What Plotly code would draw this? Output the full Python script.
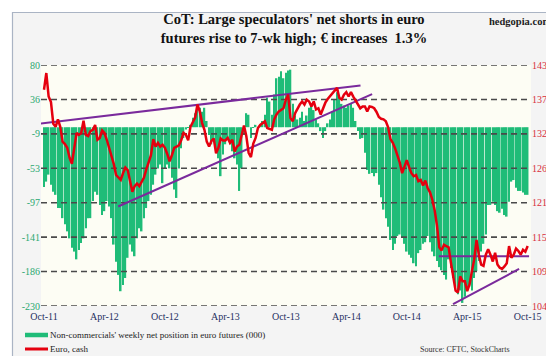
import numpy as np
import pandas as pd
import plotly.graph_objects as go

# ---------------- data ----------------
dates = pd.date_range("2011-10-04", periods=209, freq="7D")

net_position = [
    -77, -70, -61, -74, -83, -87, -104, -104, -117, -125,
    -134, -143, -155, -160, -170, -158, -149, -143, -130, -117,
    -117, -95, -83, -87, -100, -113, -108, -95, -102, -117,
    -151, -173, -190, -211, -203, -194, -168, -151, -160, -166,
    -143, -130, -134, -117, -104, -95, -87, -74, -61, -53,
    -48, -72, -53, -48, -53, -65, -80, -91, -53, -27,
    -14, -3, -1, 3, 12, 18, 27, 25, 20, 25,
    8, -10, -22, -18, -29, -40, -63, -35, -22, -14,
    -22, -31, -40, -48, -82, -53, -10, 18, 16, -14,
    -1, 3, -1, 3, 8, 16, 38, 33, 16, 42,
    63, 65, 72, 63, 70, 73, 74, 30, 15, 10,
    12, 20, 8, 15, 25, 30, 22, 10, 5, -5,
    -14, -5, 5, 10, 20, 35, 45, 38, 30, 28,
    25, 28, 30, 25, 8, -5, -15, -14, -33, -55,
    -60, -59, -63, -59, -74, -90, -106, -117, -128, -145,
    -158, -150, -140, -138, -142, -150, -160, -164, -168, -175,
    -179, -162, -158, -150, -148, -140, -148, -160, -166, -172,
    -180, -184, -190, -196, -170, -181, -194, -205, -215, -210,
    -226, -218, -208, -205, -210, -194, -185, -172, -160, -150,
    -138, -100, -100, -96, -100, -108, -110, -105, -113, -115,
    -96, -70, -68, -78, -82, -82, -84, -87, -87,
]

euro_cash = [
    139.0, 141.7, 137.9, 137.0, 133.5, 133.0, 134.2, 133.0, 130.6, 130.2,
    129.6, 128.0, 127.0, 129.8, 132.0, 131.7, 132.0, 134.0, 131.7, 131.5,
    132.3, 132.5, 133.3, 130.9, 131.2, 132.4, 132.0, 130.9, 129.5, 128.5,
    127.0, 125.2, 124.8, 124.4, 125.5, 126.4, 126.0, 124.5, 122.5, 123.4,
    123.8, 123.4, 124.2, 124.8, 126.1, 127.4, 128.4, 131.0, 129.8, 130.4,
    129.8, 130.1, 129.6, 128.6, 127.4, 128.4, 129.6, 129.8, 130.0, 130.8,
    132.0, 131.7, 130.8, 133.0, 133.9, 134.5, 136.6, 135.5, 133.6, 132.5,
    130.6, 129.8, 130.7, 131.1, 128.7, 129.6, 131.1, 130.8, 130.8, 131.2,
    130.4, 130.9, 129.0, 129.8, 130.1, 131.6, 133.2, 131.5, 128.8, 128.1,
    130.3, 131.2, 132.8, 133.3, 133.6, 133.9, 132.8, 132.6, 132.5, 134.2,
    135.0, 135.5, 135.8, 136.0, 137.4, 138.2, 134.4, 133.9, 135.2, 136.0,
    136.6, 137.1, 136.6, 137.4, 137.1, 136.3, 137.1, 135.8, 136.0, 135.0,
    136.0, 136.9, 137.5, 138.0, 138.4, 139.0, 139.3, 137.7, 137.4, 138.2,
    138.6, 137.9, 138.6, 137.9, 137.2, 136.7, 136.0, 136.3, 136.3, 135.5,
    136.3, 136.2, 136.0, 135.4, 134.6, 134.3, 134.2, 133.9, 132.9, 131.0,
    130.4, 129.5, 128.3, 127.2, 125.5, 126.5, 127.6, 126.5, 125.5, 125.0,
    125.2, 124.2, 124.4, 123.5, 124.3, 123.1, 122.4, 121.2, 119.5, 117.0,
    113.5, 113.0, 113.9, 113.7, 113.5, 111.0, 108.5, 106.5, 106.2, 108.8,
    108.0, 108.0, 106.4, 107.5, 109.6, 111.5, 114.7, 112.3, 110.7, 110.5,
    112.3, 113.2, 112.3, 111.2, 112.6, 110.7, 110.2, 110.0, 110.4, 110.9,
    113.7, 111.8, 112.3, 113.3, 112.9, 112.3, 113.1, 112.8, 113.7,
]

x_tick_labels = ["Oct-11", "Apr-12", "Oct-12", "Apr-13", "Oct-13",
                 "Apr-14", "Oct-14", "Apr-15", "Oct-15"]
left_tick_labels = ["-230", "-186", "-141", "-97", "-53", "-9", "36", "80"]
right_tick_labels = ["104", "109", "115", "121", "126", "132", "137", "143"]

series_names = ["Non-commercials' weekly net position in euro futures (000)",
                "Euro, cash"]

# trend lines (week index, euro value) start/end
trend_lines = [
    ((-1.85, 133.5), (136.1, 139.7)),
    ((31.9, 120.1), (141.1, 138.3)),
    ((169.8, 112.05), (208.6, 112.05)),
    ((175.9, 104.3), (204.3, 110.0)),
]

# ---------------- figure ----------------
W, H = 554, 356
L, R, T, B = 33, 31, 57, 58
week = pd.Timedelta(days=7)
d0 = dates[0]
x_range = [d0 - pd.Timedelta(days=9), dates[-1] + pd.Timedelta(days=10)]

GREEN = "#1fbc78"
RED = "#e5000f"
PURPLE = "#7a2a9c"
SERIF = "Liberation Serif"

left_ticks = [float(v) for v in np.linspace(-230, 80, len(left_tick_labels))]
right_ticks = [float(v) for v in np.linspace(104, 143, len(right_tick_labels))]

fig = go.Figure()

fig.add_trace(go.Bar(
    x=dates, y=net_position, marker=dict(color=GREEN, line=dict(width=0)),
    name=series_names[0], showlegend=False, yaxis="y",
))

# dashed horizontal gridlines at the left-axis tick values
grid_x, grid_y = [], []
for tv in left_ticks:
    grid_x += [x_range[0], x_range[1], None]
    grid_y += [tv, tv, None]
fig.add_trace(go.Scatter(
    x=grid_x, y=grid_y, mode="lines", yaxis="y",
    line=dict(color="#4a4a4a", width=1.6, dash="6px,4px"),
    showlegend=False, hoverinfo="skip", connectgaps=False,
))

for (i0, v0), (i1, v1) in trend_lines:
    fig.add_trace(go.Scatter(
        x=[d0 + week * i0, d0 + week * i1], y=[v0, v1], mode="lines",
        line=dict(color=PURPLE, width=2), yaxis="y2", showlegend=False,
        hoverinfo="skip",
    ))

fig.add_trace(go.Scatter(
    x=dates, y=euro_cash, mode="lines", line=dict(color=RED, width=2.5),
    name=series_names[1], yaxis="y2", showlegend=False,
))


def px_x(p):
    return (p - L) / (W - L - R)


def px_y(p):
    return 1 - (p - T) / (H - T - B)


fig.update_layout(
    width=W, height=H,
    margin=dict(l=L, r=R, t=T, b=B, autoexpand=False),
    paper_bgcolor="#f4f4f4",
    plot_bgcolor="#fdfdf4",
    bargap=0.32,
    showlegend=False,
    font=dict(family=SERIF, size=10, color="#1f2f5f"),
    title=dict(
        text="<b>CoT: Large speculators' net shorts in euro<br>"
             "futures rise to 7-wk high; € increases  1.3%</b>",
        x=286 / W, xanchor="center", xref="container",
        y=1 - 16 / H, yanchor="top", yref="container",
        font=dict(family=SERIF, size=14.5, color="#111111"),
    ),
    xaxis=dict(
        type="date",
        range=x_range,
        tickvals=[d0 + week * 26 * k for k in range(len(x_tick_labels))],
        ticktext=x_tick_labels,
        showgrid=False, zeroline=False, showline=False, ticks="",
        tickfont=dict(family=SERIF, size=10, color="#1f2f5f"),
        ticklabelstandoff=3,
    ),
    yaxis=dict(
        range=[-230, 80],
        tickvals=left_ticks,
        ticktext=left_tick_labels,
        showgrid=False, zeroline=False, showline=False, ticks="",
        tickfont=dict(family=SERIF, size=10, color="#2aa870"),
    ),
    yaxis2=dict(
        range=[104, 143], overlaying="y", side="right",
        tickvals=right_ticks,
        ticktext=right_tick_labels,
        showgrid=False, zeroline=False, showline=False, ticks="",
        tickfont=dict(family=SERIF, size=10, color="#d8303c"),
    ),
)

# legend (drawn manually to match swatch style)
legend_rows = [(327, GREEN, 4.5), (341, RED, 3)]
for (ypx, col, lw), name in zip(legend_rows, series_names):
    fig.add_shape(type="line", xref="paper", yref="paper",
                  x0=px_x(17), x1=px_x(40), y0=px_y(ypx), y1=px_y(ypx),
                  line=dict(color=col, width=lw))
    fig.add_annotation(text=name, xref="paper", yref="paper",
                       x=px_x(40), y=px_y(ypx), xanchor="left", yanchor="middle",
                       showarrow=False,
                       font=dict(family=SERIF, size=9, color="#222222"))

fig.add_annotation(
    text="<b>hedgopia.com</b>", xref="paper", yref="paper",
    x=px_x(545), y=px_y(14), xanchor="right", yanchor="middle",
    showarrow=False, font=dict(family=SERIF, size=10.5, color="#222222"),
)
fig.add_annotation(
    text="Source: CFTC, StockCharts", xref="paper", yref="paper",
    x=px_x(504), y=px_y(341), xanchor="right", yanchor="middle",
    showarrow=False, font=dict(family=SERIF, size=8, color="#333333"),
)

# white outer margin and thin border
fig.add_shape(type="rect", xref="paper", yref="paper",
              x0=px_x(0), x1=px_x(W), y0=px_y(0), y1=px_y(H),
              line=dict(color="white", width=8), fillcolor="rgba(0,0,0,0)")
fig.add_shape(type="rect", xref="paper", yref="paper",
              x0=px_x(4.5), x1=px_x(549.5), y0=px_y(4.5), y1=px_y(349.5),
              line=dict(color="#aab4c4", width=1.2), fillcolor="rgba(0,0,0,0)")

fig.write_html("out.html")
